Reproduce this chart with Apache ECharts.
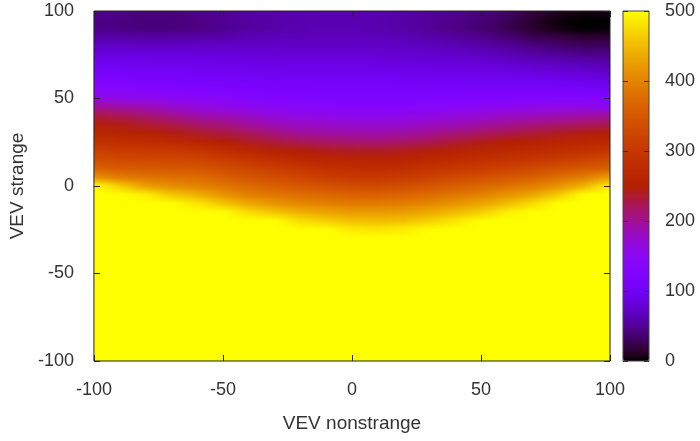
<!DOCTYPE html>
<html><head><meta charset="utf-8">
<script src="https://cdn.jsdelivr.net/npm/echarts@6/dist/echarts.min.js"></script>
<style>html,body{margin:0;padding:0;background:#fff}#chart{width:700px;height:441px}</style>
</head><body><div id="chart"></div>
<script>
// Grid coordinates
const xValues = [-100,-90,-80,-70,-60,-50,-40,-30,-20,-10,0,10,20,30,40,50,60,70,80,90,100];
const yValues = [100,95,90,85,80,75,70,65,60,55,50,45,40,35,30,25,20,15,10,5,0,-5,-10,-15,-20,-25,-30,-35,-40,-45,-50,-55,-60,-65,-70,-75,-80,-85,-90,-95,-100];
const xTickValues = [-100,-50,0,50,100];
const yTickValues = [-100,-50,0,50,100];
const colorbarTicks = [0,100,200,300,400,500];

// Values per row (one row per y, left to right along x)
const zY100 = [50,45,42,42,45,50,55,58,60,62,62,60,57,53,48,42,33,20,12,5,8];
const zY95  = [46,43,40,40,44,49,54,57,60,62,62,60,56,51,46,39,29,14,3,0,0];
const zY90  = [45,42,40,40,43,48,53,57,60,62,62,60,56,50,44,36,26,14,5,0,2];
const zY85  = [58,57,55,55,57,59,63,65,65,66,66,66,63,58,54,47,39,28,21,16,16];
const zY80  = [72,71,71,71,71,71,72,73,70,71,71,72,70,66,63,58,51,43,36,31,31];
const zY75  = [85,85,85,85,84,82,82,80,80,80,80,79,77,75,73,69,64,57,52,47,45];
const zY70  = [99,97,96,95,94,92,91,89,89,89,88,87,85,84,82,80,77,71,67,63,60];
const zY65  = [112,109,107,106,104,102,100,98,97,97,97,96,94,94,92,91,89,86,83,79,74];
const zY60  = [125,121,118,116,113,111,109,107,106,105,105,105,103,103,103,102,101,100,98,95,90];
const zY55  = [140,138,135,130,124,121,119,116,115,114,113,113,112,113,113,114,114,114,113,112,107];
const zY50  = [162,158,155,150,144,139,132,125,123,122,122,122,121,122,123,125,128,130,131,131,125];
const zY45  = [200,195,188,178,167,161,154,146,141,138,136,136,137,140,143,148,153,157,160,162,150];
const zY40  = [230,225,215,205,193,186,178,167,161,158,155,155,157,161,165,172,178,184,188,194,200];
const zY35  = [248,243,236,228,218,210,198,187,180,177,174,174,176,181,187,195,202,210,215,220,225];
const zY30  = [267,261,255,245,238,230,222,209,200,196,193,193,196,202,210,219,226,233,240,245,250];
const zY25  = [289,284,280,274,263,250,241,232,224,219,215,214,218,225,233,243,250,256,263,267,273];
const zY20  = [315,308,305,303,297,281,268,256,248,243,240,238,241,248,257,265,271,277,283,289,295];
const zY15  = [335,330,328,328,323,310,297,283,273,265,262,260,262,270,278,285,292,298,307,319,333];
const zY10  = [362,355,352,350,349,335,322,310,298,287,282,280,283,291,300,309,319,329,341,352,360];
const zY5   = [414,392,384,379,374,360,346,335,324,311,303,300,306,317,329,338,350,361,376,393,425];
const zY0   = [500,464,425,410,400,385,371,360,350,340,332,330,335,346,357,368,381,394,414,444,488];
const zYm5  = [500,500,488,460,442,417,395,385,376,369,362,361,365,374,386,397,415,433,462,500,500];
const zYm10 = [500,500,500,500,483,458,433,417,404,397,391,391,394,403,417,431,452,475,500,500,500];
const zYm15 = [500,500,500,500,500,500,475,458,441,431,423,422,425,435,450,466,489,500,500,500,500];
const zYm20 = [500,500,500,500,500,500,500,500,478,466,455,453,456,468,483,500,500,500,500,500,500];
const zYm25 = [500,500,500,500,500,500,500,500,500,500,487,484,488,500,500,500,500,500,500,500,500];
const zYm30 = [500,500,500,500,500,500,500,500,500,500,500,500,500,500,500,500,500,500,500,500,500];
const zYm35 = [500,500,500,500,500,500,500,500,500,500,500,500,500,500,500,500,500,500,500,500,500];
const zYm40 = [500,500,500,500,500,500,500,500,500,500,500,500,500,500,500,500,500,500,500,500,500];
const zYm45 = [500,500,500,500,500,500,500,500,500,500,500,500,500,500,500,500,500,500,500,500,500];
const zYm50 = [500,500,500,500,500,500,500,500,500,500,500,500,500,500,500,500,500,500,500,500,500];
const zYm55 = [500,500,500,500,500,500,500,500,500,500,500,500,500,500,500,500,500,500,500,500,500];
const zYm60 = [500,500,500,500,500,500,500,500,500,500,500,500,500,500,500,500,500,500,500,500,500];
const zYm65 = [500,500,500,500,500,500,500,500,500,500,500,500,500,500,500,500,500,500,500,500,500];
const zYm70 = [500,500,500,500,500,500,500,500,500,500,500,500,500,500,500,500,500,500,500,500,500];
const zYm75 = [500,500,500,500,500,500,500,500,500,500,500,500,500,500,500,500,500,500,500,500,500];
const zYm80 = [500,500,500,500,500,500,500,500,500,500,500,500,500,500,500,500,500,500,500,500,500];
const zYm85 = [500,500,500,500,500,500,500,500,500,500,500,500,500,500,500,500,500,500,500,500,500];
const zYm90 = [500,500,500,500,500,500,500,500,500,500,500,500,500,500,500,500,500,500,500,500,500];
const zYm95 = [500,500,500,500,500,500,500,500,500,500,500,500,500,500,500,500,500,500,500,500,500];
const zYm100= [500,500,500,500,500,500,500,500,500,500,500,500,500,500,500,500,500,500,500,500,500];

const zRows = [zY100,zY95,zY90,zY85,zY80,zY75,zY70,zY65,zY60,zY55,zY50,zY45,zY40,zY35,zY30,zY25,zY20,zY15,zY10,zY5,zY0,
  zYm5,zYm10,zYm15,zYm20,zYm25,zYm30,zYm35,zYm40,zYm45,zYm50,zYm55,zYm60,zYm65,zYm70,zYm75,zYm80,zYm85,zYm90,zYm95,zYm100];

const cells = [];
yValues.forEach((y, r) => xValues.forEach((x, c) => cells.push([x, y, zRows[r][c]])));

// gnuplot default palette (rgbformulae 7,5,15)
const palette = [];
for (let i = 0; i <= 60; i++) {
  const t = i / 60;
  const r = Math.sqrt(t), g = t * t * t, b = Math.max(0, Math.sin(2 * Math.PI * t));
  palette.push('rgb(' + Math.round(r * 255) + ',' + Math.round(g * 255) + ',' + Math.round(b * 255) + ')');
}

const nCols = xValues.length;
const FONT = "'Liberation Sans', Arial, sans-serif";
const TXT = '#333';
const FS = 18;
const FS_NAME = 19;

// vertical gradient of one grid column, colours taken from the visualMap for each cell
function columnGradient(api, col, yTop, yBot) {
  const x = api.value(0, col);
  const stops = [];
  for (let r = 0; r < yValues.length; r++) {
    const di = r * nCols + col;
    const py = api.coord([x, api.value(1, di)])[1];
    stops.push({offset: Math.min(1, Math.max(0, (py - yTop) / (yBot - yTop))), color: api.visual('color', di)});
  }
  return new echarts.graphic.LinearGradient(0, 0, 0, 1, stops);
}

const chart = echarts.init(document.getElementById('chart'), null, {renderer: 'canvas'});
chart.setOption({
  animation: false,
  backgroundColor: '#fff',
  grid: [
    {left: 92, top: 11, width: 518, height: 350, show: true, borderColor: '#222', borderWidth: 1, backgroundColor: 'transparent', z: 10},
    {left: 623, top: 11, width: 26, height: 350, show: true, borderColor: '#444', borderWidth: 1, backgroundColor: 'transparent', z: 10}
  ],
  xAxis: [
    {type: 'value', gridIndex: 0, min: -100, max: 100, interval: 50, position: 'bottom', z: 10,
     name: 'VEV nonstrange', nameLocation: 'middle', nameGap: 53,
     nameTextStyle: {fontFamily: FONT, fontSize: FS_NAME, color: TXT},
     axisLine: {show: false, onZero: false}, splitLine: {show: false},
     axisTick: {inside: true, length: 6, lineStyle: {color: '#222'}},
     axisLabel: {margin: 20, fontFamily: FONT, fontSize: FS, color: TXT}},
    {type: 'value', gridIndex: 0, min: -100, max: 100, interval: 50, position: 'top', z: 10,
     axisLine: {show: false, onZero: false}, splitLine: {show: false}, axisLabel: {show: false},
     axisTick: {inside: true, length: 6, lineStyle: {color: '#222'}}},
    {type: 'value', gridIndex: 1, show: false, min: 0, max: 1}
  ],
  yAxis: [
    {type: 'value', gridIndex: 0, min: -100, max: 100, interval: 50, position: 'left', z: 10,
     name: 'VEV strange', nameLocation: 'middle', nameGap: 62, nameRotate: 90,
     nameTextStyle: {fontFamily: FONT, fontSize: FS_NAME, color: TXT},
     axisLine: {show: false, onZero: false}, splitLine: {show: false},
     axisTick: {inside: true, length: 6, lineStyle: {color: '#222'}},
     axisLabel: {margin: 20, fontFamily: FONT, fontSize: FS, color: TXT}},
    {type: 'value', gridIndex: 0, min: -100, max: 100, interval: 50, position: 'right', z: 10,
     axisLine: {show: false, onZero: false}, splitLine: {show: false}, axisLabel: {show: false},
     axisTick: {inside: true, length: 6, lineStyle: {color: '#222'}}},
    {type: 'value', gridIndex: 1, min: colorbarTicks[0], max: colorbarTicks[colorbarTicks.length - 1], interval: 100, position: 'right', z: 10,
     axisLine: {show: false, onZero: false}, splitLine: {show: false},
     axisTick: {inside: true, length: 5, lineStyle: {color: '#333'}},
     axisLabel: {margin: 16, fontFamily: FONT, fontSize: FS, color: TXT}},
    {type: 'value', gridIndex: 1, min: colorbarTicks[0], max: colorbarTicks[colorbarTicks.length - 1], interval: 100, position: 'left', z: 10,
     axisLine: {show: false, onZero: false}, splitLine: {show: false}, axisLabel: {show: false},
     axisTick: {inside: true, length: 5, lineStyle: {color: '#333'}}}
  ],
  visualMap: {
    type: 'continuous', min: 0, max: 500, dimension: 2, seriesIndex: 0,
    calculable: false, orient: 'vertical', left: 623, top: 11,
    itemWidth: 26, itemHeight: 350, padding: 0, showLabel: false,
    inRange: {color: palette}
  },
  series: [{
    type: 'custom',
    xAxisIndex: 0, yAxisIndex: 0,
    data: cells,
    renderItem: function (params, api) {
      const col = params.dataIndexInside;
      if (col >= nCols - 1) return;   // first-row items draw the band between column col and col+1
      const cs = params.coordSys;
      const yTop = cs.y, yBot = cs.y + cs.height;
      const px0 = Math.round(api.coord([api.value(0, col), 0])[0]);
      const px1 = Math.round(api.coord([api.value(0, col + 1), 0])[0]);
      const w = px1 - px0;
      const gA = columnGradient(api, col, yTop, yBot);
      const gB = columnGradient(api, col + 1, yTop, yBot);
      const children = [{type: 'rect', shape: {x: px0, y: yTop, width: w, height: yBot - yTop}, style: {fill: gA}}];
      for (let k = 0; k < w; k++) {
        children.push({type: 'rect', shape: {x: px0 + k, y: yTop, width: 1, height: yBot - yTop},
          style: {fill: gB, opacity: (k + 0.5) / w}});
      }
      return {type: 'group', children: children};
    }
  }]
});
</script>
</body></html>
